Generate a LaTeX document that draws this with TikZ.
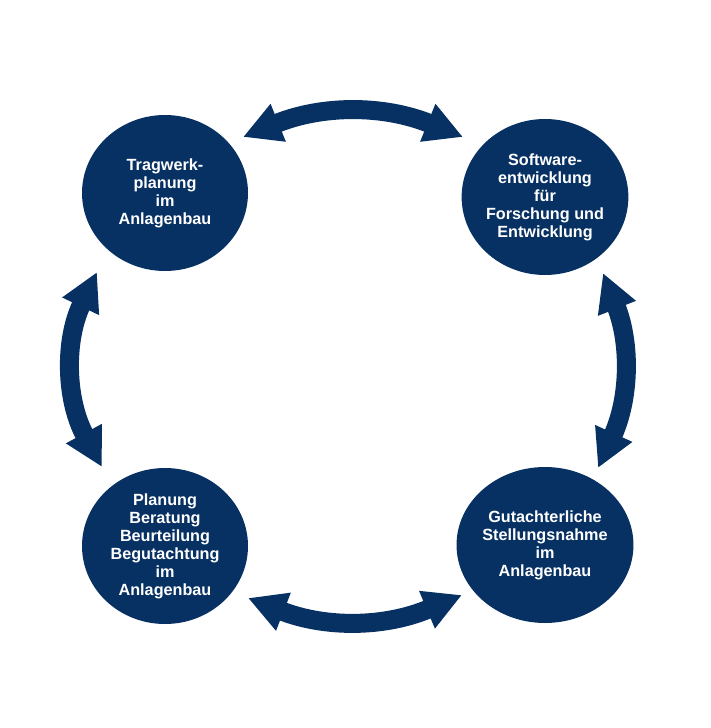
\documentclass[tikz,border=0pt]{standalone}
\usepackage{fontspec}
\setmainfont{Liberation Sans}
\usetikzlibrary{arrows.meta, shapes.geometric}
\definecolor{navy}{HTML}{083163}

\begin{document}
\begin{tikzpicture}[
    x=1pt, y=-1pt,
    topic/.style={ellipse, fill=navy, text=white, align=center, inner sep=0pt,
                  minimum width=166pt, minimum height=156pt,
                  font=\fontsize{16.2}{18}\selectfont\bfseries},
    link/.style={navy, line width=19pt,
                 {Triangle[length=38pt,width=38pt]}-{Triangle[length=38pt,width=38pt]}},
]
    \useasboundingbox (0,0) rectangle (710,728);

    %==================== FIELDS ====================
    \node[topic] (tragwerk) at (165,193) {Tragwerk-\\planung\\im\\Anlagenbau};
    \node[topic] (software) at (545,197) {Software-\\entwicklung\\für\\Forschung und\\Entwicklung};
    \node[topic] (planung)  at (165,546) {Planung\\Beratung\\Beurteilung\\Begutachtung\\im\\Anlagenbau};
    \node[topic] (gutachten) at (545,545) {Gutachterliche\\Stellungsnahme\\im\\Anlagenbau};

    %==================== ARROW ENDS ====================
    \coordinate (top-a) at (243,137);
    \coordinate (top-b) at (463,137);
    \coordinate (right-a) at (603,273);
    \coordinate (right-b) at (598,468);
    \coordinate (bot-a) at (248,598);
    \coordinate (bot-b) at (462,595);
    \coordinate (left-a) at (97,272);
    \coordinate (left-b) at (102,467);

    %==================== LINKS ====================
    \draw[link] (top-a) to[bend left=22] (top-b);
    \draw[link] (right-a) to[bend left=23] (right-b);
    \draw[link] (bot-a) to[bend right=22] (bot-b);
    \draw[link] (left-a) to[bend right=27] (left-b);

\end{tikzpicture}
\end{document}
